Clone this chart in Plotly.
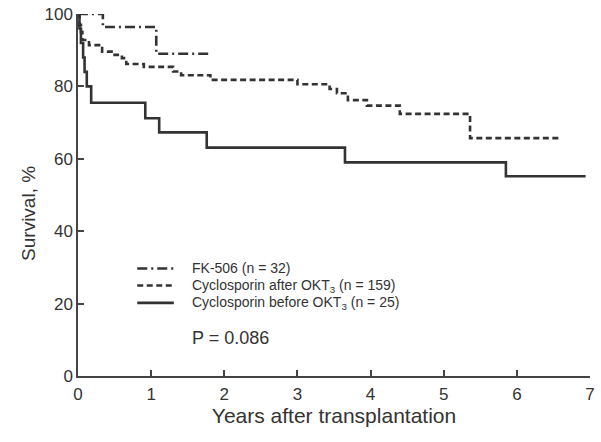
import plotly.graph_objects as go

# ---- data ----
fk_t = [0, 0.34, 1.07, 1.78]
fk_s = [100, 96.4, 89.0, 89.0]

after_t = [0, 0.02, 0.04, 0.06, 0.15, 0.33, 0.50, 0.60, 0.66, 0.90, 1.30, 1.41,
           1.81, 3.00, 3.44, 3.54, 3.69, 3.95, 4.40, 5.36, 6.61]
after_s = [100, 97, 95, 92.8, 91.4, 89.6, 88.7, 87.8, 86.2, 85.4, 84.1, 83.1,
           81.8, 80.6, 79.3, 78.1, 76.2, 74.7, 72.4, 65.7, 65.7]

before_t = [0, 0.02, 0.04, 0.07, 0.09, 0.12, 0.18, 0.92, 1.11, 1.76, 3.65, 5.85, 6.94]
before_s = [100, 96, 92, 88, 84, 80, 75.5, 71.2, 67.3, 63.1, 59.0, 55.2, 55.2]

names = ["FK-506 (n = 32)",
         "Cyclosporin after OKT<sub>3</sub> (n = 159)",
         "Cyclosporin before OKT<sub>3</sub> (n = 25)"]
dashes = ["10px,4px,2px,4px", "6px,3.5px", "solid"]
x_ticks = [0, 1, 2, 3, 4, 5, 6, 7]
y_ticks = [0, 20, 40, 60, 80, 100]
p_text = "P = 0.086"
x_title = "Years after transplantation"
y_title = "Survival, %"

ink = "#333333"
font = "Liberation Sans, Arial"
fig = go.Figure()
for t, s, nm, d in [(fk_t, fk_s, names[0], dashes[0]),
                    (after_t, after_s, names[1], dashes[1]),
                    (before_t, before_s, names[2], dashes[2])]:
    fig.add_trace(go.Scatter(x=t, y=s, mode="lines", name=nm, showlegend=False,
                             line=dict(shape="hv", color=ink, width=2.6, dash=d)))

# legend (manual, to match the figure's compact layout)
leg_y = [29.7, 25.0, 20.2]
for yy, nm, d in zip(leg_y, names, dashes):
    fig.add_shape(type="line", x0=0.81, x1=1.31, y0=yy, y1=yy, xref="x", yref="y",
                  line=dict(color=ink, width=2.6, dash=d))
    fig.add_annotation(x=1.53, y=yy, xref="x", yref="y", text=nm, showarrow=False,
                       xanchor="left", yanchor="middle",
                       font=dict(family=font, size=14, color="#333"))
fig.add_annotation(x=1.53, y=10.5, xref="x", yref="y", text=p_text, showarrow=False,
                   xanchor="left", yanchor="middle",
                   font=dict(family=font, size=18, color="#333"))
# y-axis title (placed slightly below the plot centre, as in the figure)
fig.add_annotation(x=-0.098, y=0.45, xref="paper", yref="paper", text=y_title,
                   showarrow=False, textangle=-90, xanchor="center", yanchor="middle",
                   font=dict(family=font, size=19, color="#333"))

axis_common = dict(showgrid=False, zeroline=False, showline=True, linecolor="#444",
                   linewidth=1.5, ticks="inside", ticklen=6, tickwidth=1.5,
                   tickcolor="#444", automargin=False,
                   tickfont=dict(family=font, size=17, color="#333"))
fig.update_xaxes(range=[0, 7], tickvals=x_ticks, title_text=x_title,
                 title_font=dict(family=font, size=21, color="#333"),
                 title_standoff=0, ticklabelstandoff=2, **axis_common)
fig.update_yaxes(range=[0, 100], tickvals=y_ticks, ticklabelstandoff=0, **axis_common)

fig.update_layout(width=601, height=442, margin=dict(l=78, r=11, t=14, b=66),
                  paper_bgcolor="white", plot_bgcolor="white", showlegend=False)
fig.write_html("out.html", config={"displayModeBar": False},
               post_script="document.body.style.margin='0px';")
